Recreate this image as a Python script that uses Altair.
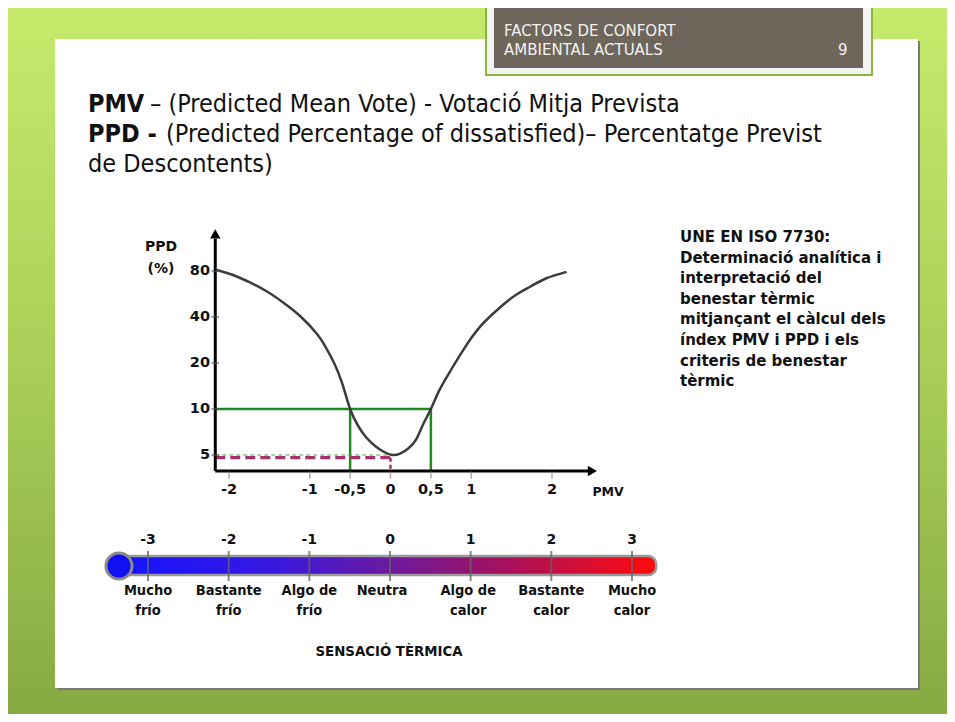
import altair as alt
import pandas as pd

# ------------------------------------------------------------------ data
curve_pmv = [-2.15, -1.95, -1.74, -1.53, -1.33, -1.12, -0.91, -0.81, -0.71, -0.60, -0.50,
             -0.40, -0.30, -0.19, -0.09, 0.02, 0.12, 0.22, 0.32, 0.40, 0.50, 0.59, 0.70,
             0.90, 1.11, 1.32, 1.52, 1.73, 1.93, 2.18]
curve_ppd = [81.2, 75.3, 67.3, 58.7, 49.8, 40.6, 31.0, 25.8, 20.6, 14.8, 10.0,
             7.74, 6.51, 5.73, 5.27, 5.0, 5.11, 5.51, 6.36, 7.86, 10.0, 12.8, 16.3,
             24.3, 34.6, 44.4, 54.3, 63.1, 71.7, 79]
ppd_ticks = [5, 10, 20, 40, 80]
pmv_ticks = [-2, -1, -0.5, 0, 0.5, 1, 2]
pmv_tick_labels = ["-2", "-1", "-0,5", "0", "0,5", "1", "2"]
comfort_pmv = [-0.5, 0.5]
comfort_ppd = 10
neutral_pmv = 0
neutral_ppd = 4.8
min_ppd = 5
axis_pmv = [-2.17, 2.5]     # extent of the drawn PMV axis (data units)
axis_ppd = [3.93, 140]      # extent of the drawn PPD axis (data units)

scale_values = [-3, -2, -1, 0, 1, 2, 3]
scale_labels = ["-3", "-2", "-1", "0", "1", "2", "3"]
sens_labels = ["Mucho\nfrío", "Bastante\nfrío", "Algo de\nfrío", "Neutra",
               "Algo de\ncalor", "Bastante\ncalor", "Mucho\ncalor"]
sens_pos = [-3, -2, -1, -0.1, 0.97, 2, 3]
thermo_extent = [-3.36, 3.3]

header_lines = ["FACTORS DE CONFORT", "AMBIENTAL ACTUALS"]
slide_number = "9"
title_bold = ["PMV", "PPD -"]
title_regular = ["– (Predicted Mean Vote) - Votació Mitja Prevista",
                 "(Predicted Percentage of dissatisfied)– Percentatge Previst",
                 "de Descontents)"]
note_lines = ["UNE EN ISO 7730:", "Determinació analítica i", "interpretació del",
              "benestar tèrmic", "mitjançant el càlcul dels", "índex PMV i PPD i els",
              "criteris de benestar", "tèrmic"]
caption = "SENSACIÓ TÈRMICA"

# ------------------------------------------------------------------ helpers
W, H = 939, 706
def P(v):  # page pixel -> chart pixel
    return v - 8

one = pd.DataFrame({"a": [0]})
XS = alt.Scale(domain=[-2, 2], range=[P(229), P(552)], nice=False, zero=False)
YS = alt.Scale(type="log", domain=[5, 80], range=[P(455), P(271)], nice=False)
TS = alt.Scale(domain=[-3, 3], range=[P(148), P(632)], nice=False, zero=False)

NUM_FONT = "DejaVu Sans"
COND_FONT = "DejaVu Sans Condensed, sans-serif"
TITLE_FONT = "DejaVu Sans Condensed, sans-serif"
BODY_FONT = "DejaVu Sans"


def box(x1, x2, y1, y2, **kw):
    return alt.Chart(one).mark_rect(**kw).encode(
        x=alt.value(P(x1)), x2=alt.value(P(x2)), y=alt.value(P(y1)), y2=alt.value(P(y2)))


def label(text, x, y, **kw):
    return alt.Chart(one).mark_text(text=text, **kw).encode(x=alt.value(P(x)), y=alt.value(P(y)))


layers = []

# ------------------------------------------------------------------ slide frame
green_grad = {"gradient": "linear", "x1": 0, "x2": 0, "y1": 0, "y2": 1,
              "stops": [{"offset": 0, "color": "#c5ea6c"},
                        {"offset": 0.5, "color": "#a9cf58"},
                        {"offset": 1, "color": "#86aa42"}]}
layers.append(alt.Chart(one).mark_rect(fill=green_grad).encode(
    x=alt.value(0), x2=alt.value(W), y=alt.value(0), y2=alt.value(H)))
layers.append(box(57, 920, 41, 690, fill="#7a7a7a"))
layers.append(box(55, 918, 39, 688, fill="#ffffff"))

# header tab
layers.append(box(486, 872, 0, 75, fill="#f3f3f3", stroke="#8ab63c", strokeWidth=2))
layers.append(box(494, 863, 7, 68, fill="#6e665a"))
for i, t in enumerate(header_lines):
    layers.append(label(t, 504, 36 + 19 * i, font="DejaVu Sans", fontSize=15,
                        color="#f2f2f2", align="left", baseline="alphabetic"))
layers.append(label(slide_number, 838, 55, font="DejaVu Sans", fontSize=15,
                    color="#f2f2f2", align="left", baseline="alphabetic"))

# title paragraph
for i, t in enumerate(title_bold):
    layers.append(label(t, 88, 112 + 30 * i, font=TITLE_FONT, fontSize=25, fontWeight="bold",
                        color="#111111", align="left", baseline="alphabetic"))
for t, x, yb in zip(title_regular, [150, 166, 88], [112, 142, 172]):
    layers.append(label(t, x, yb, font=TITLE_FONT, fontSize=25, color="#111111",
                        align="left", baseline="alphabetic"))

# side note
layers.append(alt.Chart(one).mark_text(
    text="\n".join(note_lines), lineBreak="\n", lineHeight=20.6, font=BODY_FONT,
    fontSize=15, fontWeight="bold", color="#111111", align="left", baseline="top").encode(
    x=alt.value(P(680)), y=alt.value(P(230))))

# caption
layers.append(label(caption, 389, 652, font=BODY_FONT, fontSize=13.3, fontWeight="bold",
                    color="#111111", align="center", baseline="middle"))

# ------------------------------------------------------------------ PPD / PMV plot
def xq(f):
    return alt.X(f, type="quantitative", scale=XS, axis=None)


def yq(f):
    return alt.Y(f, type="quantitative", scale=YS, axis=None)


# comfort (green) lines
green_h = pd.DataFrame({"x1": [axis_pmv[0]], "x2": [comfort_pmv[1]], "y": [comfort_ppd]})
layers.append(alt.Chart(green_h).mark_rule(color="#1e8c1e", strokeWidth=2.5).encode(
    x=xq("x1"), x2="x2", y=yq("y")))
green_v = pd.DataFrame({"x": comfort_pmv, "y1": [comfort_ppd] * 2, "y2": [axis_ppd[0]] * 2})
layers.append(alt.Chart(green_v).mark_rule(color="#1e8c1e", strokeWidth=2.5).encode(
    x=xq("x"), y=yq("y1"), y2="y2"))

# thin green dashed at minimum
thin = pd.DataFrame({"x1": [axis_pmv[0]], "x2": [neutral_pmv], "y": [min_ppd]})
layers.append(alt.Chart(thin).mark_rule(color="#49a849", strokeWidth=1, strokeDash=[4, 3]).encode(
    x=xq("x1"), x2="x2", y=yq("y")))

# magenta dashed neutral lines
mag_h = pd.DataFrame({"x1": [axis_pmv[0]], "x2": [neutral_pmv], "y": [neutral_ppd]})
layers.append(alt.Chart(mag_h).mark_rule(color="#a3326e", strokeWidth=3.2, strokeDash=[10, 5]).encode(
    x=xq("x1"), x2="x2", y=yq("y")))
mag_v = pd.DataFrame({"x": [neutral_pmv], "y1": [neutral_ppd], "y2": [axis_ppd[0]]})
layers.append(alt.Chart(mag_v).mark_rule(color="#a3326e", strokeWidth=2.5, strokeDash=[4, 3]).encode(
    x=xq("x"), y=yq("y1"), y2="y2"))

# curve
curve = pd.DataFrame({"pmv": curve_pmv, "ppd": curve_ppd, "o": list(range(len(curve_pmv)))})
layers.append(alt.Chart(curve).mark_line(color="#3c3c3c", strokeWidth=2.5,
                                         interpolate="natural").encode(
    x=xq("pmv"), y=yq("ppd"), order="o:Q"))

# axes lines
yaxis = pd.DataFrame({"x": [axis_pmv[0]], "y1": [axis_ppd[0]], "y2": [axis_ppd[1] * 0.93]})
layers.append(alt.Chart(yaxis).mark_rule(color="#000000", strokeWidth=3).encode(
    x=xq("x"), y=yq("y1"), y2="y2"))
xaxis = pd.DataFrame({"x1": [axis_pmv[0]], "x2": [axis_pmv[1] - 0.05], "y": [axis_ppd[0]]})
layers.append(alt.Chart(xaxis).mark_rule(color="#000000", strokeWidth=3).encode(
    x=xq("x1"), x2="x2", y=yq("y")))
arr_up = pd.DataFrame({"x": [axis_pmv[0]], "y": [axis_ppd[1]]})
layers.append(alt.Chart(arr_up).mark_point(shape="triangle-up", filled=True, color="#000000",
                                           size=110, opacity=1).encode(x=xq("x"), y=yq("y")))
arr_rt = pd.DataFrame({"x": [axis_pmv[1]], "y": [axis_ppd[0]]})
layers.append(alt.Chart(arr_rt).mark_point(shape="triangle-right", filled=True, color="#000000",
                                           size=110, opacity=1).encode(x=xq("x"), y=yq("y")))

# small ticks
yt = pd.DataFrame({"x": [axis_pmv[0]] * len(ppd_ticks), "y": ppd_ticks})
layers.append(alt.Chart(yt).mark_tick(orient="horizontal", color="#555555", thickness=1.5,
                                      size=8).encode(x=xq("x"), y=yq("y")))
xt = pd.DataFrame({"x": pmv_ticks, "y": [axis_ppd[0] * 0.94] * len(pmv_ticks)})
layers.append(alt.Chart(xt).mark_tick(orient="vertical", color="#888888", thickness=1.5,
                                      size=7).encode(x=xq("x"), y=yq("y")))

# tick labels
ylab = pd.DataFrame({"y": ppd_ticks, "t": [str(v) for v in ppd_ticks]})
layers.append(alt.Chart(ylab).mark_text(font=NUM_FONT, fontSize=14.5, fontWeight="bold",
                                        align="right", baseline="middle", color="#111111").encode(
    x=alt.value(P(210)), y=yq("y"), text="t:N"))
xlab = pd.DataFrame({"x": pmv_ticks, "t": pmv_tick_labels})
layers.append(alt.Chart(xlab).mark_text(font=NUM_FONT, fontSize=14.5, fontWeight="bold",
                                        align="center", baseline="middle", color="#111111").encode(
    x=xq("x"), y=alt.value(P(490)), text="t:N"))
pmvlab = pd.DataFrame({"x": [axis_pmv[1]], "t": ["PMV"]})
layers.append(alt.Chart(pmvlab).mark_text(font=NUM_FONT, fontSize=12.5, fontWeight="bold",
                                          align="left", baseline="middle", color="#111111").encode(
    x=xq("x"), y=alt.value(P(492)), text="t:N"))
layers.append(alt.Chart(one).mark_text(text="PPD\n(%)", lineBreak="\n", lineHeight=22,
                                       font=NUM_FONT, fontSize=14, fontWeight="bold",
                                       align="center", baseline="top", color="#111111").encode(
    x=alt.value(P(161)), y=alt.value(P(240))))

# ------------------------------------------------------------------ thermometer
def tq(f):
    return alt.X(f, type="quantitative", scale=TS, axis=None)


tube_grad = {"gradient": "linear", "x1": 0, "x2": 1, "y1": 0, "y2": 0,
             "stops": [{"offset": 0, "color": "#1414ff"},
                       {"offset": 0.3, "color": "#3a18dd"},
                       {"offset": 0.5, "color": "#6a1aa0"},
                       {"offset": 0.7, "color": "#a01262"},
                       {"offset": 0.88, "color": "#dc0e30"},
                       {"offset": 1, "color": "#ff0a0a"}]}
tube = pd.DataFrame({"x1": [thermo_extent[0]], "x2": [thermo_extent[1]]})
layers.append(alt.Chart(tube).mark_rect(fill=tube_grad, stroke="#9a9a9a", strokeWidth=2.5,
                                        cornerRadius=8).encode(
    x=tq("x1"), x2="x2", y=alt.value(P(556)), y2=alt.value(P(575))))
bulb = pd.DataFrame({"x": [thermo_extent[0]]})
layers.append(alt.Chart(bulb).mark_point(shape="circle", filled=True, fill="#1010f0",
                                         stroke="#8a8a8a", strokeWidth=3, size=680, opacity=1).encode(
    x=tq("x"), y=alt.value(P(566))))
ticks = pd.DataFrame({"x": scale_values})
layers.append(alt.Chart(ticks).mark_rule(color="#666666", strokeWidth=2, opacity=0.75).encode(
    x=tq("x"), y=alt.value(P(551)), y2=alt.value(P(581))))
tlab = pd.DataFrame({"x": scale_values, "t": scale_labels})
layers.append(alt.Chart(tlab).mark_text(font=NUM_FONT, fontSize=14, fontWeight="bold",
                                        align="center", baseline="middle", color="#111111").encode(
    x=tq("x"), y=alt.value(P(540)), text="t:N"))
slab = pd.DataFrame({"x": sens_pos, "t": sens_labels})
layers.append(alt.Chart(slab).mark_text(font=COND_FONT, fontSize=14.5, fontWeight="bold",
                                        lineBreak="\n", lineHeight=20, align="center",
                                        baseline="top", color="#111111").encode(
    x=tq("x"), y=alt.value(P(584)), text="t:N"))

chart = alt.layer(*layers).resolve_scale(x="independent", y="independent").properties(
    width=W, height=H, autosize=alt.AutoSizeParams(type="none"), padding=0
).configure_view(stroke=None)

chart.save("out.html", embed_options={"renderer": "svg", "actions": False})
